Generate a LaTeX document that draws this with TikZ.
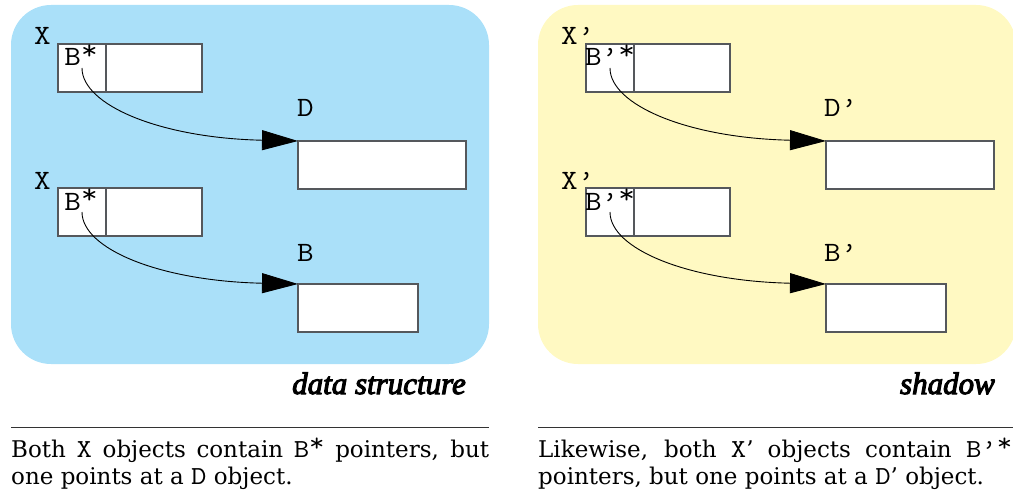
\documentclass[tikz,border=0pt]{standalone}
\usepackage{fontspec}
\setmainfont{Liberation Serif}
\setmonofont{Latin Modern Mono}[FakeStretch=1.15]
\newfontfamily\captionserif{DejaVu Serif}
\newfontfamily\titlefont{Liberation Serif Italic}[FakeBold=3.5]
\usetikzlibrary{arrows.meta}

\definecolor{panelblue}{RGB}{170,224,249}
\definecolor{panelyellow}{RGB}{255,249,194}
\definecolor{boxline}{RGB}{85,88,92}

% pointer star set high, as in C declarations printed in Courier
\newcommand{\hstar}{\raisebox{0.22em}{*}}
% typewriter words inside the running captions
\newcommand{\cmono}[1]{{\fontsize{26}{27.5}\ttfamily #1}}

\begin{document}
\begin{tikzpicture}[x=1pt,y=-1pt,
  panel/.style={rounded corners=40pt},
  cellbox/.style={draw=boxline, line width=1.1pt, fill=white, minimum height=48pt,
    inner sep=0pt, outer sep=0pt, anchor=north west},
  tag/.style={font=\fontsize{28}{28}\ttfamily, inner sep=0pt, anchor=base west},
  ptrtext/.style={font=\fontsize{28}{28}\ttfamily, inner sep=0pt, anchor=base},
  ptr/.style={-{Triangle[length=36pt,width=20pt]}, line width=0.9pt},
  title/.style={font=\fontsize{31}{31}\titlefont, inner sep=0pt, anchor=base east},
  rule/.style={line width=1pt, draw=black!80},
  caption/.style={anchor=north west, inner sep=0pt, align=justify,
    font=\fontsize{23}{27.5}\captionserif}]
\useasboundingbox (0,0) rectangle (1013,495);

% ---------- left panel: the data structure ----------
\fill[panelblue, panel] (11,5) rectangle (489,364);

\node[tag] (xaL) at (34,45) {X};
\node[cellbox, minimum width=96pt] (xaR) at (106,44) {};
\node[cellbox, minimum width=48pt] (xaP) at (58,44) {};
\node[ptrtext] (xaT) at (81,66) {B\hstar};

\node[tag] (dL) at (297,117) {D};
\node[cellbox, minimum width=168pt] (d) at (298,141) {};

\node[tag] (xbL) at (34,189) {X};
\node[cellbox, minimum width=96pt] (xbR) at (106,188) {};
\node[cellbox, minimum width=48pt] (xbP) at (58,188) {};
\node[ptrtext] (xbT) at (81,210) {B\hstar};

\node[tag] (bL) at (297,261) {B};
\node[cellbox, minimum width=120pt] (b) at (298,284) {};

\draw[ptr] (xaP.center) .. controls +(0,37) and +(-138,-3) .. (d.north west);
\draw[ptr] (xbP.center) .. controls +(0,37) and +(-138,-3) .. (b.north west);

\node[title] (tA) at (466,394) {data structure};
\draw[rule] (11,427) -- (489,427);
\node[caption, text width=478pt] (capA) at (11,438)
  {Both \cmono{X} objects contain \cmono{B\hstar} pointers, but\linebreak one points at a \cmono{D} object.};

% ---------- right panel: the shadow ----------
\fill[panelyellow, panel] (538,5) rectangle (1016,364);

\node[tag] (xcL) at (561,45) {X’};
\node[cellbox, minimum width=96pt] (xcR) at (634,44) {};
\node[cellbox, minimum width=48pt] (xcP) at (586,44) {};
\node[ptrtext] (xcT) at (610,66) {B’\hstar};

\node[tag] (dpL) at (824,117) {D’};
\node[cellbox, minimum width=168pt] (dp) at (826,141) {};

\node[tag] (xdL) at (561,189) {X’};
\node[cellbox, minimum width=96pt] (xdR) at (634,188) {};
\node[cellbox, minimum width=48pt] (xdP) at (586,188) {};
\node[ptrtext] (xdT) at (610,210) {B’\hstar};

\node[tag] (bpL) at (824,261) {B’};
\node[cellbox, minimum width=120pt] (bp) at (826,284) {};

\draw[ptr] (xcP.center) .. controls +(0,37) and +(-138,-3) .. (dp.north west);
\draw[ptr] (xdP.center) .. controls +(0,37) and +(-138,-3) .. (bp.north west);

\node[title] (tB) at (995,394) {shadow};
\draw[rule] (538,427) -- (1016,427);
\node[caption, text width=474pt] (capB) at (538,438)
  {Likewise, both \cmono{X}’ objects contain \cmono{B’\hstar}\linebreak pointers, but one points at a \cmono{D}’ object.};
\end{tikzpicture}
\end{document}
